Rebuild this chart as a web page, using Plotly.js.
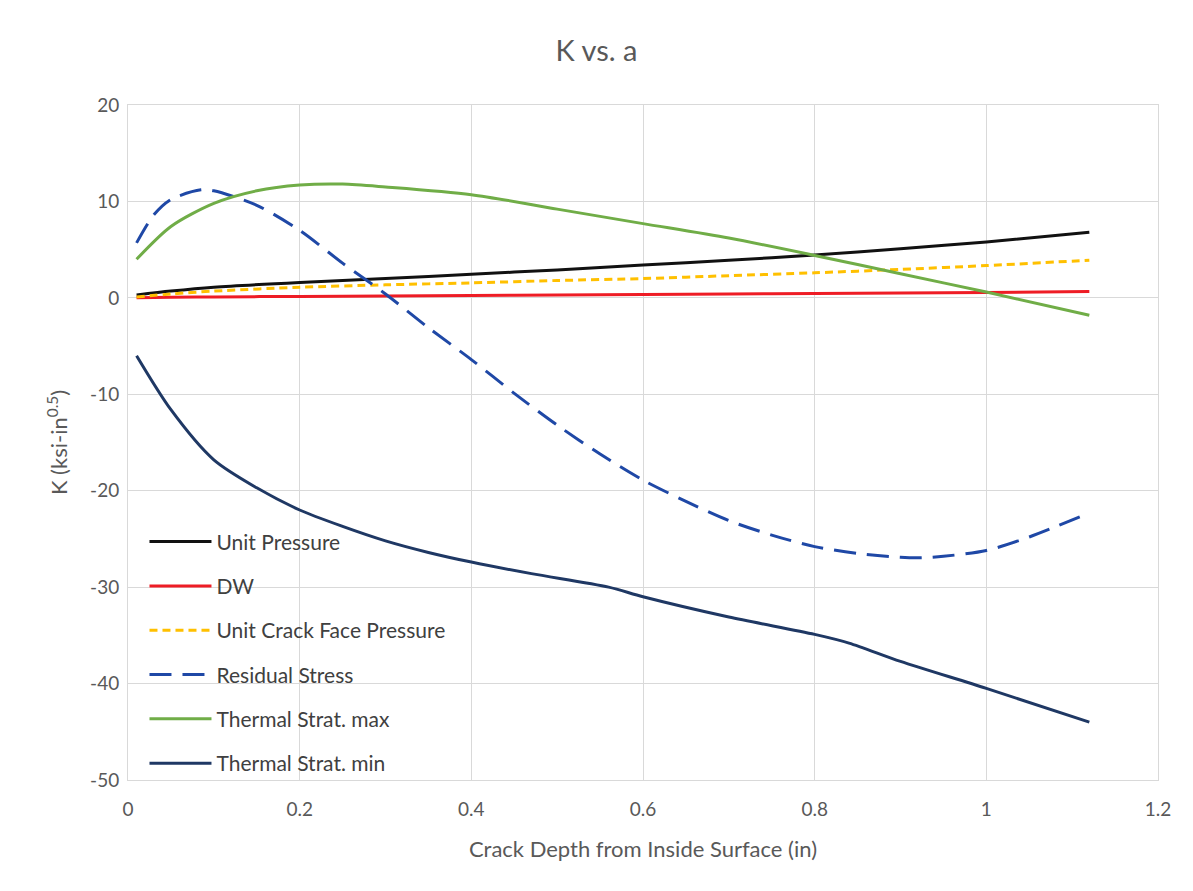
<!DOCTYPE html>
<html>
<head>
<meta charset="utf-8">
<script src="https://cdn.plot.ly/plotly-3.0.1.min.js"></script>
<style>html,body{margin:0;padding:0;background:#fff;}#chart{width:1193px;height:891px;}</style>
</head>
<body>
<div id="chart"></div>
<script>
// Crack depth a (in)
const aUnit = [0.01, 0.05, 0.1, 0.2, 0.3, 0.4, 0.5, 0.6, 0.7, 0.8, 0.9, 1.0, 1.12];
const unitPressure = [0.3, 0.7, 1.1, 1.6, 2.0, 2.45, 2.9, 3.4, 3.9, 4.45, 5.1, 5.8, 6.8];
const dw = [0.0, 0.05, 0.1, 0.15, 0.2, 0.25, 0.3, 0.35, 0.4, 0.45, 0.5, 0.55, 0.65];
const unitCrackFace = [0.1, 0.4, 0.7, 1.1, 1.35, 1.55, 1.8, 2.0, 2.3, 2.6, 2.95, 3.35, 3.9];

const aRes = [0.01, 0.03, 0.05, 0.085, 0.1, 0.15, 0.2, 0.25, 0.3, 0.35, 0.4, 0.45, 0.5, 0.55, 0.6, 0.65, 0.7, 0.75, 0.8, 0.85, 0.9, 0.925, 0.95, 1.0, 1.05, 1.12];
const residualStress = [5.7, 8.6, 10.2, 11.2, 11.1, 9.6, 7.0, 3.6, 0.4, -3.1, -6.4, -9.9, -13.2, -16.2, -18.9, -21.1, -23.1, -24.6, -25.8, -26.5, -26.9, -26.95, -26.8, -26.2, -24.8, -22.3];

const aThMax = [0.01, 0.05, 0.1, 0.15, 0.2, 0.25, 0.3, 0.4, 0.5, 0.6, 0.7, 0.8, 0.9, 1.0, 1.12];
const thermalMax = [4.0, 7.4, 9.8, 11.1, 11.7, 11.8, 11.5, 10.7, 9.2, 7.7, 6.2, 4.4, 2.5, 0.6, -1.8];

const aThMin = [0.01, 0.05, 0.1, 0.15, 0.2, 0.25, 0.3, 0.35, 0.4, 0.47, 0.56, 0.6, 0.7, 0.8, 0.84, 0.9, 1.0, 1.12];
const thermalMin = [-6.0, -11.6, -16.8, -19.7, -22.0, -23.7, -25.2, -26.4, -27.4, -28.6, -30.0, -31.0, -33.1, -34.9, -35.8, -37.7, -40.5, -44.0];

const xTicks = [0, 0.2, 0.4, 0.6, 0.8, 1, 1.2];
const yTicks = [20, 10, 0, -10, -20, -30, -40, -50];

const FONT = 'Lato, "Open Sans", sans-serif';
const GRAY = '#595959';
const GRID = '#d9d9d9';

function tr(name, x, y, color, dash, lg) {
  return {
    type: 'scatter', mode: 'lines', name: name, x: x, y: y,
    legendgroup: lg,
    line: {color: color, width: 3, dash: dash, shape: 'spline', smoothing: 0.8}
  };
}

const data = [
  tr('Unit Pressure', aUnit, unitPressure, '#111111', 'solid', 'g1'),
  tr('DW', aUnit, dw, '#ee1c25', 'solid', 'g2'),
  tr('Unit Crack Face Pressure', aUnit, unitCrackFace, '#ffc000', '8px,5px', 'g3'),
  tr('Residual Stress', aRes, residualStress, '#1f48a6', '22px,11px', 'g4'),
  tr('Thermal Strat. max', aThMax, thermalMax, '#70ad47', 'solid', 'g5'),
  tr('Thermal Strat. min', aThMin, thermalMin, '#1f3864', 'solid', 'g6')
];

const layout = {
  width: 1193, height: 891,
  paper_bgcolor: '#ffffff', plot_bgcolor: '#ffffff',
  margin: {l: 128, r: 35, t: 105, b: 111},
  font: {family: FONT, color: GRAY, size: 19},
  title: {text: 'K vs. a', x: 0.5, xanchor: 'center', y: 0.943, yanchor: 'middle',
          font: {family: FONT, size: 29, color: GRAY}},
  showlegend: true,
  legend: {x: 0.016, xanchor: 'left', y: 0.383, yanchor: 'top',
           bgcolor: 'rgba(0,0,0,0)', borderwidth: 0,
           font: {family: FONT, size: 21, color: '#404040'},
           tracegroupgap: 14, itemwidth: 62},
  xaxis: {
    range: [0, 1.2], tickvals: xTicks, ticktext: xTicks.map(String),
    showgrid: true, gridcolor: GRID, gridwidth: 1,
    zeroline: false, showline: true, linecolor: GRID, mirror: true,
    ticks: '', ticklen: 0, ticklabelstandoff: 12,
    tickfont: {family: FONT, size: 19, color: GRAY},
    title: {text: 'Crack Depth from Inside Surface (in)', standoff: 22,
            font: {family: FONT, size: 22, color: GRAY}}
  },
  yaxis: {
    range: [-50, 20], tickvals: yTicks, ticktext: yTicks.map(String),
    showgrid: true, gridcolor: GRID, gridwidth: 1,
    zeroline: false, showline: true, linecolor: GRID, mirror: true,
    ticks: '', ticklen: 0, ticklabelstandoff: 4,
    tickfont: {family: FONT, size: 19, color: GRAY},
    title: {text: 'K (ksi-in<sup>0.5</sup>)', standoff: 16,
            font: {family: FONT, size: 22, color: GRAY}}
  }
};

Plotly.newPlot('chart', data, layout, {displayModeBar: false, staticPlot: true});
</script>
</body>
</html>
